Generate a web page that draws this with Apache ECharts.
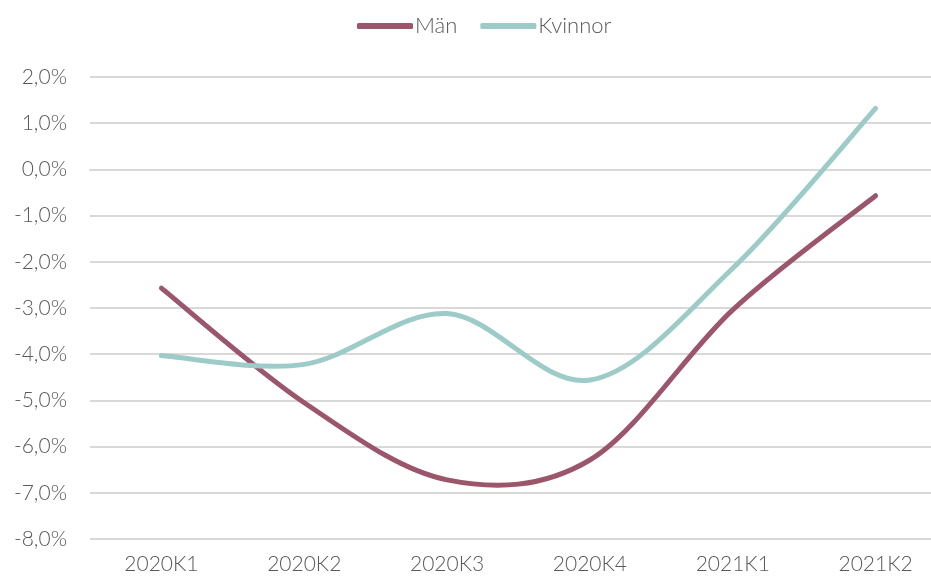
<!DOCTYPE html>
<html>
<head>
<meta charset="utf-8">
<script src="https://cdn.jsdelivr.net/npm/echarts@6/dist/echarts.min.js"></script>
<style>
  html, body { margin: 0; padding: 0; background: #fff; }
  #chart { width: 931px; height: 580px; }
</style>
</head>
<body>
<div id="chart"></div>
<script>
const categories = ['2020K1', '2020K2', '2020K3', '2020K4', '2021K1', '2021K2']
const manValues = [-2.57, -5.05, -6.72, -6.29, -3.04, -0.57]
const kvinnorValues = [-4.03, -4.22, -3.12, -4.56, -2.14, 1.32]

const chart = echarts.init(document.getElementById('chart'))
const textColor = '#595959'
const fontFamily = 'Lato'
const colors = ['#9b566b', '#9dcbc8']

// Excel-style smooth line (catmull-rom -> bezier), points via api.coord
function smoothRender(values, color) {
  return function (params, api) {
    if (params.dataIndex !== 0) return null
    const pts = values.map((v, i) => api.coord([i, v]))
    let d = 'M' + pts[0][0] + ',' + pts[0][1]
    for (let i = 0; i < pts.length - 1; i++) {
      const p0 = pts[Math.max(i - 1, 0)]
      const p1 = pts[i]
      const p2 = pts[i + 1]
      const p3 = pts[Math.min(i + 2, pts.length - 1)]
      const c1x = p1[0] + (p2[0] - p0[0]) / 6
      const c1y = p1[1] + (p2[1] - p0[1]) / 6
      const c2x = p2[0] - (p3[0] - p1[0]) / 6
      const c2y = p2[1] - (p3[1] - p1[1]) / 6
      d += ' C' + c1x + ',' + c1y + ' ' + c2x + ',' + c2y + ' ' + p2[0] + ',' + p2[1]
    }
    return {
      type: 'path',
      shape: { pathData: d },
      style: { fill: 'none', stroke: color, lineWidth: 5, lineCap: 'round', lineJoin: 'round' }
    }
  }
}

const options = {
  animation: false,
  color: colors,
  legend: {
    top: 10,
    left: 352,
    itemWidth: 56,
    itemHeight: 6,
    itemGap: 23,
    data: [
      { name: 'Män', icon: 'roundRect' },
      { name: 'Kvinnor', icon: 'roundRect' }
    ],
    textStyle: { color: textColor, fontSize: 22, fontFamily: fontFamily, fontWeight: 300, padding: [0, 0, 0, -3] }
  },
  grid: {
    left: 90,
    width: 857,
    top: 77,
    bottom: 41,
    outerBoundsMode: 'none'
  },
  xAxis: {
    type: 'category',
    data: categories,
    boundaryGap: true,
    axisLine: { show: true, lineStyle: { color: '#d9d9d9', width: 2 } },
    axisTick: { show: false },
    axisLabel: {
      color: textColor,
      fontSize: 21,
      fontFamily: fontFamily,
      fontWeight: 300,
      margin: 15
    }
  },
  yAxis: {
    type: 'value',
    min: -8,
    max: 2,
    interval: 1,
    axisLine: { show: false },
    axisTick: { show: false },
    splitLine: { lineStyle: { color: '#d9d9d9', width: 2 } },
    axisLabel: {
      color: textColor,
      fontSize: 21,
      fontFamily: fontFamily,
      fontWeight: 300,
      margin: 23,
      formatter: (v) => v.toFixed(1).replace('.', ',') + '%'
    }
  },
  series: [
    {
      name: 'Män',
      type: 'custom',
      clip: false,
      itemStyle: { color: colors[0] },
      data: manValues.map((v, i) => [i, v]),
      encode: { x: 0, y: 1 },
      renderItem: smoothRender(manValues, colors[0])
    },
    {
      name: 'Kvinnor',
      type: 'custom',
      clip: false,
      itemStyle: { color: colors[1] },
      data: kvinnorValues.map((v, i) => [i, v]),
      encode: { x: 0, y: 1 },
      renderItem: smoothRender(kvinnorValues, colors[1])
    }
  ]
}

chart.setOption(options)
</script>
</body>
</html>
